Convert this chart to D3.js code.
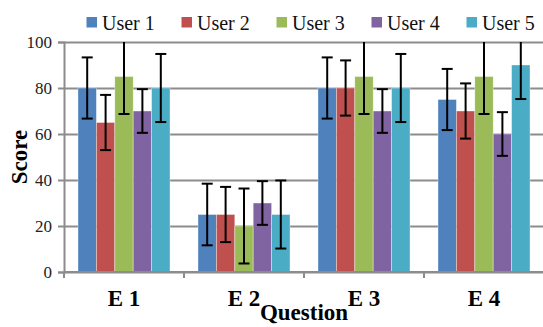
<!DOCTYPE html>
<html>
<head>
<meta charset="utf-8">
<script src="https://cdn.jsdelivr.net/npm/d3@7"></script>
<style>
  html, body { margin: 0; padding: 0; background: #fff; }
  svg { display: block; }
  svg text { font-family: "Liberation Serif", "Times New Roman", Times, serif; }
</style>
</head>
<body>
<svg id="chart" width="543" height="327"></svg>
<script>
// ---- data ----
const categories = ["E 1", "E 2", "E 3", "E 4"];
const seriesNames = ["User 1", "User 2", "User 3", "User 4", "User 5"];
const user1 = [80, 25, 80, 75];
const user2 = [65, 25, 80, 70];
const user3 = [85, 20, 85, 85];
const user4 = [70, 30, 70, 60];
const user5 = [80, 25, 80, 90];
const errUser1 = [13.3, 13.4, 13.3, 13.3];
const errUser2 = [12, 12, 12, 12];
const errUser3 = [16.3, 16.3, 16.3, 16.3];
const errUser4 = [9.5, 9.5, 9.5, 9.5];
const errUser5 = [14.8, 14.8, 14.8, 14.8];
const yTicks = [0, 20, 40, 60, 80, 100];
const colors = ["#4F81BD", "#C0504D", "#9BBB59", "#8064A2", "#4BACC6"];

const seriesValues = [user1, user2, user3, user4, user5];
const seriesErrors = [errUser1, errUser2, errUser3, errUser4, errUser5];

// ---- layout ----
const svg = d3.select("#chart");
const mLeft = 64, mRight = 544, mTop = 42, mBottom = 272;
const serif = '"Liberation Serif", "Times New Roman", Times, serif';
const gridColor = "#8c8c8c";

const x0 = d3.scaleBand().domain(categories).range([mLeft, mRight])
  .paddingInner(28 / 120).paddingOuter(14 / 120);
const x1 = d3.scaleBand().domain(seriesNames).range([0, x0.bandwidth()]).padding(0);
const y = d3.scaleLinear().domain([0, 100]).range([mBottom, mTop]);

// gridlines
const grid = svg.append("g").attr("transform", `translate(${mLeft},0)`)
  .call(d3.axisLeft(y).tickValues(yTicks).tickSize(-(mRight - mLeft)).tickFormat(""));
grid.select(".domain").remove();
grid.selectAll("line").attr("stroke", gridColor).attr("stroke-width", 2);

// clip for error bars / bars
svg.append("defs").append("clipPath").attr("id", "plotClip")
  .append("rect").attr("x", mLeft).attr("y", mTop).attr("width", mRight - mLeft).attr("height", mBottom - mTop);

// bars
const data = [];
categories.forEach((c, ci) => {
  seriesNames.forEach((s, si) => {
    data.push({ cat: c, series: s, si, value: seriesValues[si][ci], err: seriesErrors[si][ci] });
  });
});

const plot = svg.append("g").attr("clip-path", "url(#plotClip)");
plot.selectAll("rect.bar").data(data).enter().append("rect")
  .attr("class", "bar")
  .attr("x", d => x0(d.cat) + x1(d.series))
  .attr("width", x1.bandwidth())
  .attr("y", d => y(d.value))
  .attr("height", d => y(0) - y(d.value))
  .attr("fill", d => colors[d.si])
  .attr("stroke", "rgba(255,255,255,0.45)")
  .attr("stroke-width", 0.8);

// y axis
const yAxis = svg.append("g").attr("transform", `translate(${mLeft},0)`)
  .call(d3.axisLeft(y).tickValues(yTicks).tickSize(6).tickPadding(6));
yAxis.attr("font-family", null);
yAxis.select(".domain").attr("stroke", gridColor).attr("stroke-width", 2);
yAxis.selectAll("line").attr("stroke", gridColor).attr("stroke-width", 2);
yAxis.selectAll("text").style("font-family", serif).style("font-size", "17px").attr("fill", "#222");

// x axis line + ticks at band boundaries
const xAxisG = svg.append("g");
xAxisG.append("line").attr("x1", mLeft).attr("x2", mRight).attr("y1", y(0)).attr("y2", y(0))
  .attr("stroke", gridColor).attr("stroke-width", 2);
const step = x0.step();
const boundaries = categories.map(c => x0(c) - x0.paddingInner() * step / 2);
xAxisG.selectAll("line.tick").data(boundaries).enter().append("line")
  .attr("class", "tick")
  .attr("x1", d => d).attr("x2", d => d)
  .attr("y1", y(0)).attr("y2", y(0) + 6)
  .attr("stroke", gridColor).attr("stroke-width", 2);

// error bars
const eb = plot.selectAll("g.err").data(data).enter().append("g").attr("class", "err");
const capW = 11;
eb.append("line")
  .attr("x1", d => x0(d.cat) + x1(d.series) + x1.bandwidth() / 2)
  .attr("x2", d => x0(d.cat) + x1(d.series) + x1.bandwidth() / 2)
  .attr("y1", d => y(d.value + d.err))
  .attr("y2", d => y(d.value - d.err))
  .attr("stroke", "#000").attr("stroke-width", 2);
["+", "-"].forEach(sign => {
  eb.append("line")
    .attr("x1", d => x0(d.cat) + x1(d.series) + x1.bandwidth() / 2 - capW / 2)
    .attr("x2", d => x0(d.cat) + x1(d.series) + x1.bandwidth() / 2 + capW / 2)
    .attr("y1", d => y(sign === "+" ? d.value + d.err : d.value - d.err))
    .attr("y2", d => y(sign === "+" ? d.value + d.err : d.value - d.err))
    .attr("stroke", "#000").attr("stroke-width", 2);
});

// category labels
svg.append("g").selectAll("text").data(categories).enter().append("text")
  .attr("x", d => x0(d) + x0.bandwidth() / 2)
  .attr("y", 306)
  .attr("text-anchor", "middle")
  .style("font-family", serif).style("font-weight", "bold").style("font-size", "23px")
  .attr("fill", "#000")
  .text(d => d);

// axis titles
svg.append("text")
  .attr("x", (mLeft + mRight) / 2).attr("y", 320)
  .attr("text-anchor", "middle")
  .style("font-family", serif).style("font-weight", "bold").style("font-size", "23px")
  .text("Question");
svg.append("text")
  .attr("transform", `translate(27,${(mTop + mBottom) / 2}) rotate(-90)`)
  .attr("text-anchor", "middle")
  .style("font-family", serif).style("font-weight", "bold").style("font-size", "23px")
  .text("Score");

// legend
const legendStart = 86.5, legendStep = 95;
const lg = svg.append("g").selectAll("g").data(seriesNames).enter().append("g")
  .attr("transform", (d, i) => `translate(${legendStart + i * legendStep},0)`);
lg.append("rect").attr("x", 0).attr("y", 17).attr("width", 10.5).attr("height", 10.5)
  .attr("fill", (d, i) => colors[i]);
lg.append("text").attr("x", 15.5).attr("y", 29.5)
  .style("font-family", serif).style("font-size", "20px").attr("fill", "#111")
  .text(d => d);
</script>
</body>
</html>
